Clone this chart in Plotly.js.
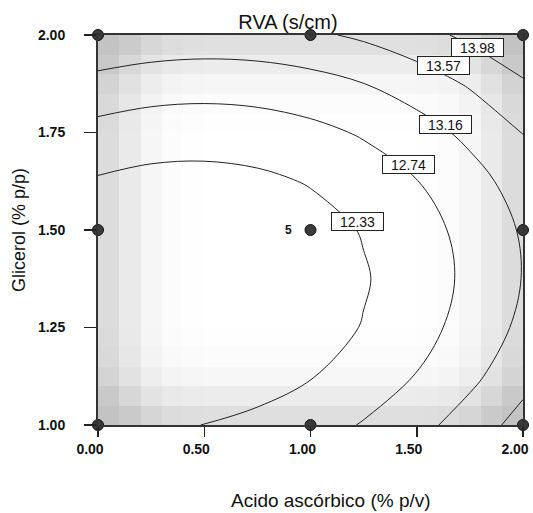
<!DOCTYPE html>
<html>
<head>
<meta charset="utf-8">
<script src="https://cdn.plot.ly/plotly-3.0.1.min.js"></script>
<style>html,body{margin:0;padding:0;background:#fff;}#chart{width:533px;height:513px;}</style>
</head>
<body>
<div id="chart"></div>
<script>
// Factor levels of the grid (Acido ascórbico % p/v, Glicerol % p/p)
const acidoGrid = [0, 0.25, 0.5, 0.75, 1.0, 1.25, 1.5, 1.75, 2.0];
const glicerolGrid = [1.0, 1.125, 1.25, 1.375, 1.5, 1.625, 1.75, 1.875, 2.0];
const rvaRow1000 = [12.328, 12.302, 12.332, 12.420, 12.565, 12.768, 13.028, 13.345, 13.721];
const rvaRow1125 = [12.110, 12.074, 12.095, 12.175, 12.311, 12.505, 12.756, 13.065, 13.432];
const rvaRow1250 = [11.997, 11.952, 11.965, 12.035, 12.163, 12.348, 12.591, 12.891, 13.249];
const rvaRow1375 = [11.989, 11.936, 11.940, 12.002, 12.121, 12.298, 12.532, 12.823, 13.173];
const rvaRow1500 = [12.088, 12.026, 12.022, 12.075, 12.185, 12.353, 12.579, 12.862, 13.202];
const rvaRow1625 = [12.293, 12.222, 12.209, 12.253, 12.355, 12.515, 12.731, 13.006, 13.338];
const rvaRow1750 = [12.604, 12.524, 12.503, 12.538, 12.631, 12.782, 12.990, 13.256, 13.579];
const rvaRow1875 = [13.021, 12.933, 12.902, 12.929, 13.014, 13.156, 13.355, 13.612, 13.927];
const rvaRow2000 = [13.544, 13.447, 13.408, 13.426, 13.502, 13.635, 13.826, 14.075, 14.381];
const contourLevels = [12.33, 12.74, 13.16, 13.57, 13.98];

// Design points
const designAcido = [0, 1, 2, 0, 1, 2, 0, 1, 2];
const designGlicerol = [1, 1, 1, 1.5, 1.5, 1.5, 2, 2, 2];
const centerReplicates = '5';

// Background shading (standard-error style) profiles, darkness per cell
const shadeX = [0.05,0.15,0.25,0.35,0.45,0.55,0.65,0.75,0.85,0.95,1.05,1.15,1.25,1.35,1.45,1.55,1.65,1.75,1.85,1.95];
const shadeY = [1.025,1.075,1.125,1.175,1.225,1.275,1.325,1.375,1.425,1.475,1.525,1.575,1.625,1.675,1.725,1.775,1.825,1.875,1.925,1.975];
const shadeCol = [35, 21, 9, 3, 1, 0, 0, 0, 0, 0, 0, 0, 0, 0, 0, 1, 3, 9, 21, 35];
const shadeRow = [32, 19, 8, 3, 1, 0, 0, 0, 0, 0, 0, 0, 0, 0, 0, 1, 3, 9, 19, 31];

// Tick labels
const xTickVals = [0, 0.5, 1, 1.5, 2];
const xTickText = ['0.00', '0.50', '1.00', '1.50', '2.00'];
const yTickVals = [1, 1.25, 1.5, 1.75, 2];
const yTickText = ['1.00', '1.25', '1.50', '1.75', '2.00'];

// Contour label placement
const labelAcido = [1.219, 1.459, 1.635, 1.624, 1.788];
const labelGlicerol = [1.521, 1.668, 1.771, 1.923, 1.969];

const rvaZ = [rvaRow1000, rvaRow1125, rvaRow1250, rvaRow1375, rvaRow1500, rvaRow1625, rvaRow1750, rvaRow1875, rvaRow2000];
const shadeZ = shadeRow.map(r => shadeCol.map(c => r + c));

const FONT = "'Liberation Sans', Arial, Helvetica, sans-serif";

const traces = [];
traces.push({
  type: 'heatmap', x: shadeX, y: shadeY, z: shadeZ,
  zmin: 0, zmax: 60, showscale: false, hoverinfo: 'skip',
  colorscale: [[0, '#ffffff'], [1, '#c3c3c3']]
});
contourLevels.forEach(L => {
  traces.push({
    type: 'contour', x: acidoGrid, y: glicerolGrid, z: rvaZ,
    showscale: false, hoverinfo: 'skip',
    contours: {start: L, end: L + 0.0001, size: 1, coloring: 'none'},
    line: {color: '#222', width: 1, smoothing: 1}
  });
});
traces.push({
  type: 'scatter', mode: 'markers', x: designAcido, y: designGlicerol,
  cliponaxis: false, hoverinfo: 'skip',
  marker: {size: 11, color: '#3a3a3a', line: {color: '#111', width: 1}}
});

const annotations = contourLevels.map((L, i) => ({
  x: labelAcido[i], y: labelGlicerol[i], xref: 'x', yref: 'y',
  text: L.toFixed(2), showarrow: false,
  bgcolor: '#ffffff', bordercolor: '#222', borderwidth: 1, borderpad: 1,
  width: 49, height: 15,
  font: {family: FONT, size: 14, color: '#111'}
}));
annotations.push({
  x: 1, y: 1.5, xref: 'x', yref: 'y', xshift: -22, text: '<b>' + centerReplicates + '</b>',
  showarrow: false, font: {family: FONT, size: 12, color: '#111'}
});
annotations.push({
  x: (331 - 98) / 425, y: -(500 - 425) / 390, xref: 'paper', yref: 'paper',
  xanchor: 'center', yanchor: 'middle',
  text: 'Acido ascórbico (% p/v)', showarrow: false,
  font: {family: FONT, size: 19, color: '#111'}
});

const layout = {
  width: 533, height: 513,
  margin: {l: 98, r: 10, t: 35, b: 88, pad: 0},
  paper_bgcolor: '#ffffff', plot_bgcolor: '#ffffff',
  showlegend: false,
  title: {text: 'RVA (s/cm)', x: 288 / 533, xanchor: 'center', xref: 'container',
          y: 1 - 22 / 513, yanchor: 'middle', yref: 'container',
          font: {family: FONT, size: 20, color: '#111'}},
  xaxis: {
    range: [0, 2], tickvals: xTickVals, ticktext: xTickText,
    ticks: 'outside', ticklen: 10, tickwidth: 1.5, tickcolor: '#222',
    ticklabelstandoff: 0, ticklabelshift: -8, ticklabeloverflow: 'allow',
    showline: true, linecolor: '#333', linewidth: 2, mirror: true,
    showgrid: false, zeroline: false, fixedrange: true,
    tickfont: {family: FONT, size: 14, color: '#111', weight: 'bold'}
  },
  yaxis: {
    range: [1, 2], tickvals: yTickVals, ticktext: yTickText,
    ticks: 'outside', ticklen: 12, tickwidth: 1.5, tickcolor: '#222',
    ticklabelstandoff: 16,
    showline: true, linecolor: '#333', linewidth: 2, mirror: true,
    showgrid: false, zeroline: false, fixedrange: true,
    tickfont: {family: FONT, size: 14, color: '#111', weight: 'bold'},
    title: {text: 'Glicerol (% p/p)', standoff: 8, font: {family: FONT, size: 18, color: '#111'}}
  },
  annotations: annotations
};

Plotly.newPlot('chart', traces, layout, {staticPlot: true, displayModeBar: false});
</script>
</body>
</html>
